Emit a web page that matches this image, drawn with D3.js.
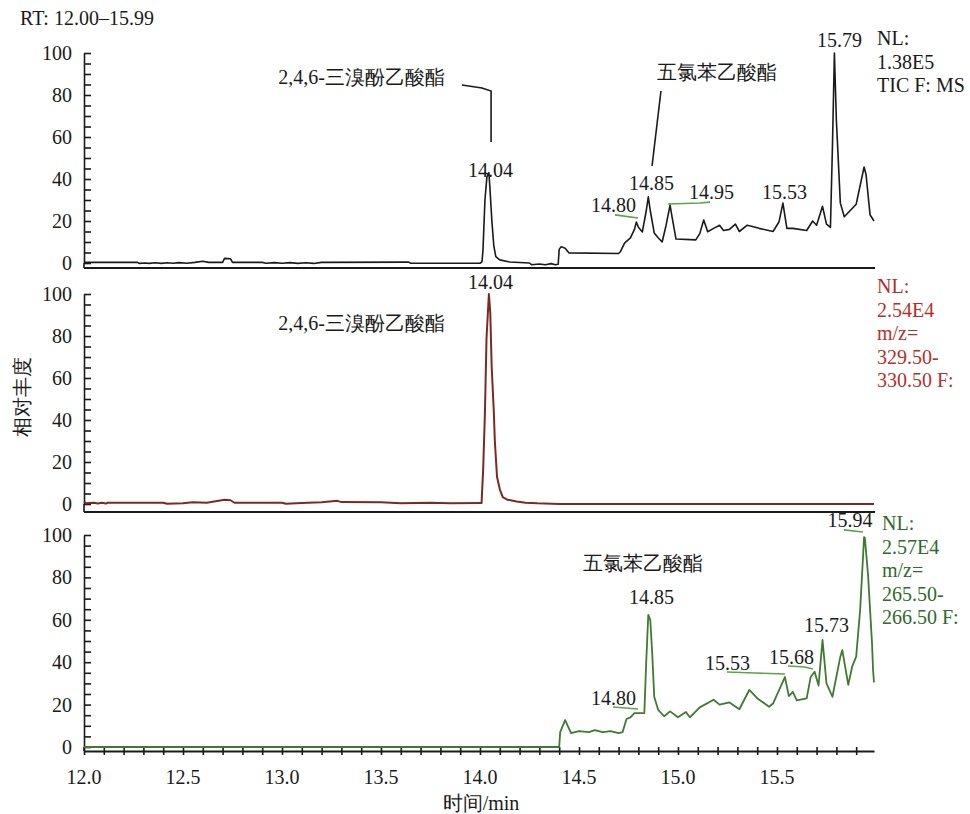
<!DOCTYPE html>
<html>
<head>
<meta charset="utf-8">
<script src="https://cdn.jsdelivr.net/npm/d3@7"></script>
<style>
  body { margin: 0; background: #fff; }
</style>
</head>
<body>
<svg id="chart" width="970" height="814"></svg>
<script>
// retention time domain (min)
const rtRange = [12.0, 15.99];
const xTicks = d3.range(120, 160).map(d => d / 10);
const xLabels = [12.0, 12.5, 13.0, 13.5, 14.0, 14.5, 15.0, 15.5];

// TIC trace [t, relative abundance]
const ticSeries = [
  [12.00, 0.3], [12.27, 0.3], [12.28, -0.2], [12.31, 0.0], [12.33, -0.2], [12.36, 0.1], [12.39, -0.2],
  [12.42, 0.1], [12.45, -0.1], [12.48, 0.2], [12.52, -0.1], [12.56, 0.3], [12.60, 0.8], [12.63, 0.3],
  [12.70, 0.3], [12.71, 2.2], [12.74, 2.0], [12.75, 0.3], [12.90, 0.3], [12.92, -0.1], [12.96, 0.2],
  [13.00, -0.1], [13.04, 0.2], [13.08, -0.2], [13.12, 0.1], [13.16, -0.2], [13.20, 0.3], [13.64, 0.4],
  [13.65, -0.1], [14.00, -0.1], [14.01, 0.5], [14.015, 6], [14.025, 30], [14.035, 41], [14.045, 43],
  [14.05, 36], [14.06, 20], [14.07, 8], [14.08, 3], [14.10, 1.5], [14.15, 0.5], [14.25, 0.0],
  [14.26, -0.8], [14.30, -0.5], [14.33, -0.8], [14.36, -0.3], [14.38, -0.8], [14.395, -0.6],
  [14.40, 6.5], [14.41, 7.8], [14.43, 7.0], [14.45, 4.8], [14.70, 4.5], [14.71, 5.5], [14.73, 9.5],
  [14.76, 12], [14.78, 16], [14.79, 19.5], [14.80, 17], [14.82, 14.8], [14.84, 25], [14.85, 31.5],
  [14.86, 25], [14.88, 14.3], [14.90, 12], [14.92, 10], [14.94, 18], [14.96, 27.6], [14.97, 22],
  [14.99, 11.4], [15.09, 11], [15.11, 14], [15.13, 20.5], [15.15, 14.9], [15.18, 16.5], [15.21, 18],
  [15.23, 15.5], [15.26, 16], [15.29, 18.5], [15.31, 15], [15.35, 18], [15.41, 16.5], [15.48, 15],
  [15.51, 19.5], [15.53, 28.5], [15.55, 16.5], [15.58, 16.5], [15.65, 15.5], [15.68, 20], [15.70, 18],
  [15.73, 27], [15.75, 18.5], [15.77, 17], [15.78, 55], [15.79, 100], [15.80, 68], [15.82, 28.5],
  [15.84, 22], [15.90, 28], [15.94, 45.7], [15.95, 42], [15.97, 23], [15.99, 20]
];

// m/z 329.5-330.5 trace
const brSeries = [
  [12.00, 1.0], [12.01, 0.4], [12.05, 0.6], [12.07, 0.2], [12.09, 0.6], [12.11, 0.2], [12.12, 0.6],
  [12.40, 0.6], [12.42, 0.1], [12.50, 0.4], [12.55, 0.8], [12.62, 0.6], [12.71, 2.0], [12.74, 1.8],
  [12.76, 0.6], [13.00, 0.6], [13.02, 0.1], [13.10, 0.5], [13.20, 0.8], [13.28, 1.5], [13.30, 0.9],
  [13.50, 0.8], [13.60, 0.4], [13.75, 0.6], [13.85, 0.3], [14.00, 0.5], [14.008, 0.5], [14.016, 16.5],
  [14.025, 43.6], [14.033, 79], [14.045, 100], [14.052, 91], [14.059, 65.5], [14.07, 43.6],
  [14.075, 30], [14.086, 13], [14.10, 7], [14.115, 3.3], [14.14, 2], [14.185, 1.2], [14.23, 0.6],
  [14.29, 0.3], [14.40, 0.0], [15.99, 0.0]
];

// m/z 265.5-266.5 trace
const clSeries = [
  [12.00, 0], [14.40, 0], [14.405, 7], [14.43, 12.7], [14.46, 6.6], [14.50, 7.5], [14.55, 7],
  [14.58, 8], [14.62, 7], [14.66, 7.5], [14.70, 6.5], [14.72, 7], [14.74, 13.2], [14.76, 14],
  [14.78, 16], [14.83, 16], [14.84, 41], [14.85, 62.3], [14.86, 60], [14.87, 44], [14.88, 23.7],
  [14.90, 17.5], [14.93, 14.5], [14.96, 16.8], [15.00, 14], [15.04, 16.5], [15.06, 14], [15.11, 18.7],
  [15.18, 22.3], [15.21, 20], [15.26, 21], [15.31, 17.8], [15.36, 26.9], [15.40, 23], [15.46, 19],
  [15.48, 20.5], [15.54, 33], [15.56, 24], [15.58, 26], [15.60, 22], [15.65, 22.9], [15.67, 33],
  [15.69, 35.5], [15.71, 29], [15.73, 50.5], [15.75, 30], [15.78, 23.7], [15.82, 42.6], [15.83, 45.7],
  [15.86, 29.3], [15.88, 38], [15.90, 42.6], [15.92, 64.6], [15.94, 99], [15.944, 98.6], [15.96, 81],
  [15.98, 49], [15.985, 36.7], [15.99, 30.5]
];

// peak labels [t, v, text]
const ticLabels = [[14.053, 44.3, "14.04"], [14.674, 27.6, "14.80"], [14.866, 38, "14.85"],
  [15.169, 33.8, "14.95"], [15.538, 33.8, "15.53"], [15.816, 106, "15.79"]];
const brLabels = [[14.053, 105.7, "14.04"]];
const clLabels = [[14.866, 70.8, "14.85"], [14.674, 23.1, "14.80"], [15.25, 39.6, "15.53"],
  [15.573, 42.5, "15.68"], [15.75, 57.5, "15.73"], [15.869, 107, "15.94"]];

// green underline marks under some labels
const ticMarks = [
  [[14.682, 22.9], [14.798, 21.4]],
  [[14.949, 28.1], [15.111, 28.6], [15.162, 29]]
];
const clMarks = [
  [[14.672, 18.9], [14.798, 17.9]],
  [[15.247, 35.4], [15.389, 34.9], [15.540, 34.4]],
  [[15.556, 38.2], [15.641, 37.7], [15.682, 36.8]],
  [[15.838, 102.4], [15.934, 101.4]]
];

// leader lines from compound names
const ticLeaders = [
  [[13.909, 84.8], [14.010, 83.3], [14.056, 81.9], [14.056, 57.6]],
  [[14.914, 81.9], [14.869, 46.2]]
];

const compBr = "2,4,6-三溴酚乙酸酯";
const compCl = "五氯苯乙酸酯";

const ticInfo = ["NL:", "1.38E5", "TIC F: MS"];
const brInfo = ["NL:", "2.54E4", "m/z=", "329.50-", "330.50 F:"];
const clInfo = ["NL:", "2.57E4", "m/z=", "265.50-", "266.50 F:"];

const serif = "'Liberation Serif', 'Noto Serif', 'DejaVu Serif', serif";

const svg = d3.select("#chart");
const x = d3.scaleLinear().domain(rtRange).range([84, 874]);

const txt = sel => sel.style("font-family", serif).style("font-size", "20px").style("fill", "#1a1a1a");

const panels = [
  { data: ticSeries, color: "#1a1a1a", width: 1.6, top: 53, zero: 263, base: 268,
    labels: ticLabels, marks: ticMarks, leaders: ticLeaders, info: ticInfo, infoColor: "#1a1a1a", infoTop: 38,
    names: [[13.823, 88.6, compBr, "end"], [14.894, 91, compCl, "start"]] },
  { data: brSeries, color: "#7a2a22", width: 2, top: 294, zero: 504, base: 512,
    labels: brLabels, marks: [], leaders: [], info: brInfo, infoColor: "#b3312c", infoTop: 286,
    names: [[13.823, 86.2, compBr, "end"]] },
  { data: clSeries, color: "#3f7a30", width: 1.8, top: 535, zero: 747, base: 751,
    labels: clLabels, marks: clMarks, leaders: [], info: clInfo, infoColor: "#2f6b2a", infoTop: 523,
    names: [[14.52, 86.8, compCl, "start"]] }
];

panels.forEach((p, i) => {
  const y = d3.scaleLinear().domain([0, 100]).range([p.zero, p.top]);
  const g = svg.append("g");

  // y axis with minor ticks every 5
  const yAxis = g.append("g")
    .attr("transform", `translate(${x.range()[0]},0)`)
    .call(d3.axisLeft(y).tickValues(d3.range(0, 101, 5)).tickSize(-7).tickSizeOuter(0)
      .tickPadding(12).tickFormat(d => d % 20 === 0 ? d : ""));
  yAxis.selectAll("path, line").attr("stroke", "#1a1a1a").attr("stroke-width", 1.6);
  yAxis.selectAll("text").call(txt);
  g.append("line")
    .attr("x1", x.range()[0]).attr("x2", x.range()[0])
    .attr("y1", p.zero).attr("y2", p.base)
    .attr("stroke", "#1a1a1a").attr("stroke-width", 1.6);

  // bottom line of panel
  if (i < 2) {
    g.append("line")
      .attr("x1", x.range()[0]).attr("x2", x.range()[1] + 1)
      .attr("y1", p.base).attr("y2", p.base)
      .attr("stroke", "#1a1a1a").attr("stroke-width", 2);
  } else {
    const xAxis = g.append("g")
      .attr("transform", `translate(0,${p.base})`)
      .call(d3.axisBottom(x).tickValues(xTicks).tickSize(4).tickSizeOuter(0).tickFormat(""));
    xAxis.select(".domain").attr("stroke", "#1a1a1a").attr("stroke-width", 2);
    xAxis.selectAll(".tick line").attr("y1", -4).attr("y2", 4).attr("stroke", "#1a1a1a").attr("stroke-width", 1.6);
    g.selectAll(".xlab").data(xLabels).join("text")
      .attr("class", "xlab")
      .attr("x", d => x(d)).attr("y", p.base + 26)
      .attr("text-anchor", "middle").attr("dy", "0.35em")
      .text(d => d.toFixed(1))
      .call(txt);
  }

  // trace
  const line = d3.line().x(d => x(d[0])).y(d => y(d[1]));
  g.append("path")
    .datum(p.data)
    .attr("d", line)
    .attr("fill", "none")
    .attr("stroke", p.color)
    .attr("stroke-width", p.width)
    .attr("stroke-linejoin", "round");

  // label underlines
  p.marks.forEach(m => {
    g.append("path").datum(m).attr("d", line)
      .attr("fill", "none").attr("stroke", "#5aa548").attr("stroke-width", 1.6);
  });

  // leader lines
  p.leaders.forEach(m => {
    g.append("path").datum(m).attr("d", line)
      .attr("fill", "none").attr("stroke", "#1a1a1a").attr("stroke-width", 1.6);
  });

  // peak labels
  g.selectAll(".plab").data(p.labels).join("text")
    .attr("class", "plab")
    .attr("x", d => x(d[0])).attr("y", d => y(d[1]))
    .attr("text-anchor", "middle").attr("dy", "0.35em")
    .text(d => d[2])
    .call(txt);

  // compound names
  g.selectAll(".cname").data(p.names).join("text")
    .attr("class", "cname")
    .attr("x", d => x(d[0])).attr("y", d => y(d[1]))
    .attr("text-anchor", d => d[3]).attr("dy", "0.35em")
    .text(d => d[2])
    .call(txt);

  // NL info text
  g.selectAll(".info").data(p.info).join("text")
    .attr("class", "info")
    .attr("x", i === 2 ? 882 : 877)
    .attr("y", (d, k) => p.infoTop + k * 23.6)
    .attr("dy", "0.35em")
    .text(d => d)
    .call(txt)
    .style("fill", p.infoColor);
});

svg.append("text").attr("x", 20).attr("y", 18).attr("dy", "0.35em").text("RT: 12.00–15.99").call(txt);

svg.append("text")
  .attr("x", (x.range()[0] + x.range()[1]) / 2 + 2).attr("y", 803)
  .attr("text-anchor", "middle").attr("dy", "0.35em")
  .text("时间/min")
  .call(txt);

svg.append("text")
  .attr("transform", "translate(22,397)rotate(-90)")
  .attr("text-anchor", "middle").attr("dy", "0.35em")
  .text("相对丰度")
  .call(txt);
</script>
</body>
</html>
